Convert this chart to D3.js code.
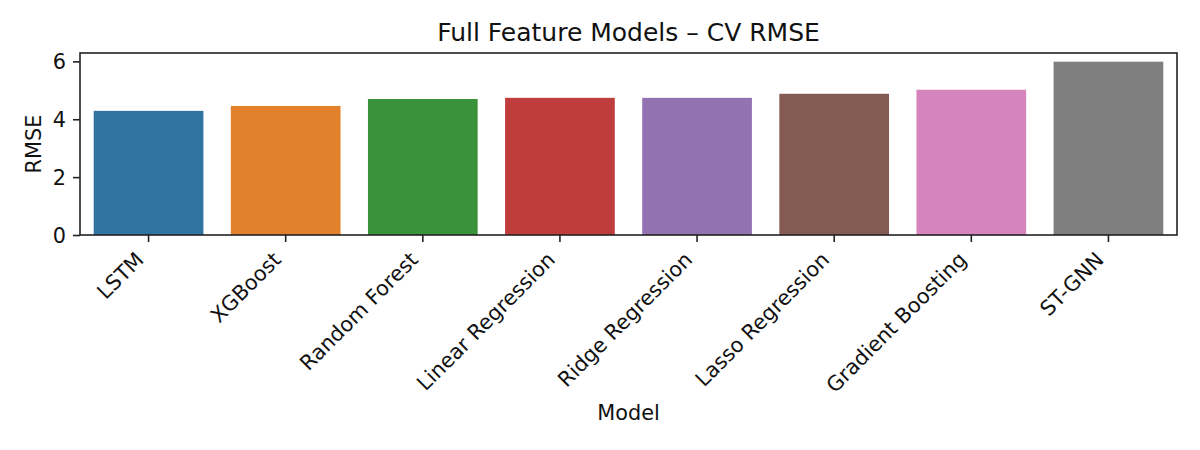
<!DOCTYPE html>
<html><head><meta charset="utf-8">
<script src="https://cdn.jsdelivr.net/npm/d3@7"></script>
<style>body{margin:0;background:#fff}svg{display:block;font-family:"DejaVu Sans",sans-serif}</style>
</head><body><svg id="c" width="1200" height="450"></svg>
<script>
const models = ["LSTM","XGBoost","Random Forest","Linear Regression","Ridge Regression","Lasso Regression","Gradient Boosting","ST-GNN"];
const rmse = [4.29,4.46,4.70,4.74,4.74,4.88,5.02,5.99];
const colors = ["#3274a1","#e1812c","#3a923a","#c03d3e","#9372b2","#845b53","#d684bd","#7f7f7f"];
const yTicks = [0,2,4,6];

const svg = d3.select("#c");
const L=80, R=1177, T=53, B=235;
const FS=20.8;
const x = d3.scaleBand().domain(models).range([L,R]).paddingInner(0.2).paddingOuter(0.1);
const y = d3.scaleLinear().domain([0, d3.max(rmse)*1.05]).range([B,T]);

svg.append("g").selectAll("rect").data(models).join("rect")
  .attr("x",d=>x(d)).attr("width",x.bandwidth())
  .attr("y",(d,i)=>y(rmse[i])).attr("height",(d,i)=>B-y(rmse[i]))
  .attr("fill",(d,i)=>colors[i]);

const xa = svg.append("g").attr("transform",`translate(0,${B})`)
  .call(d3.axisBottom(x).tickSize(7).tickPadding(7));
xa.select(".domain").remove();
xa.attr("font-family",null).attr("font-size",null);
xa.selectAll("line").attr("stroke","#222").attr("stroke-width",1.6);
xa.selectAll("text").attr("font-size",FS).attr("fill","#111")
  .attr("text-anchor","end").attr("dy",null).attr("y",null)
  .attr("transform","translate(-3.5,26) rotate(-45)");

const ya = svg.append("g").attr("transform",`translate(${L},0)`)
  .call(d3.axisLeft(y).tickValues(yTicks).tickSize(7).tickPadding(7).tickFormat(d3.format("d")));
ya.select(".domain").remove();
ya.attr("font-family",null).attr("font-size",null);
ya.selectAll("line").attr("stroke","#222").attr("stroke-width",1.6);
ya.selectAll("text").attr("font-size",FS).attr("fill","#111").attr("dy","0.36em");

svg.append("rect").attr("x",L).attr("y",T).attr("width",R-L).attr("height",B-T)
  .attr("fill","none").attr("stroke","#222").attr("stroke-width",1.6);

svg.append("text").attr("x",(L+R)/2).attr("y",41).attr("text-anchor","middle")
  .attr("font-size",25).attr("fill","#111").text("Full Feature Models – CV RMSE");
svg.append("text").attr("x",(L+R)/2).attr("y",420).attr("text-anchor","middle")
  .attr("font-size",FS).attr("fill","#111").text("Model");
svg.append("text").attr("transform",`translate(41,${(T+B)/2}) rotate(-90)`).attr("text-anchor","middle")
  .attr("font-size",FS).attr("fill","#111").text("RMSE");
</script></body></html>
